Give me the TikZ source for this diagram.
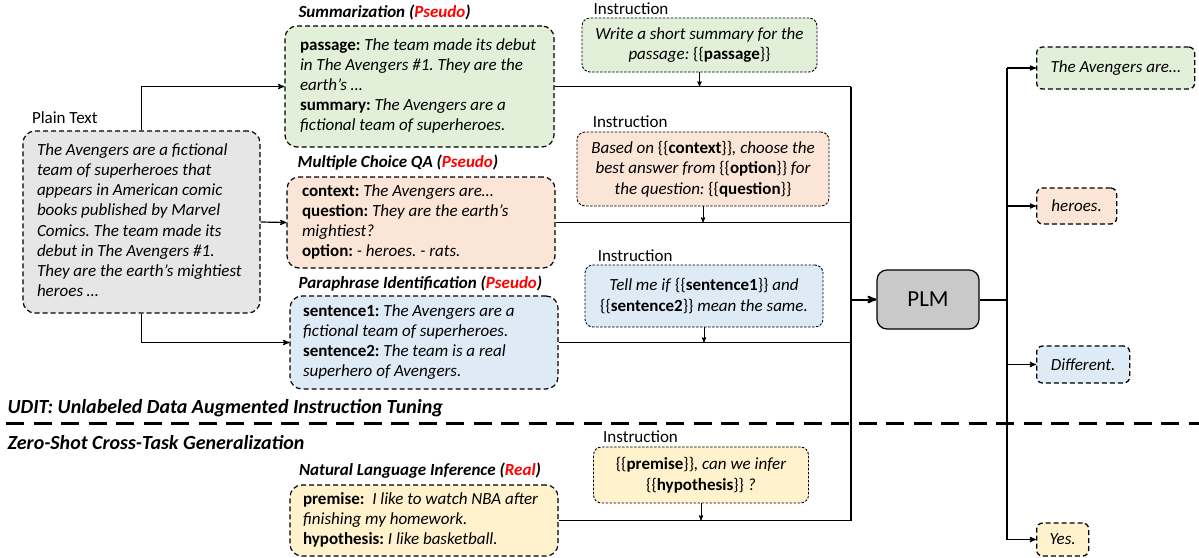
\documentclass[tikz,border=0pt]{standalone}
\usepackage{fontspec}
\setmainfont{Carlito}
\usetikzlibrary{arrows}
\usetikzlibrary{positioning}

\definecolor{sumgreen}{RGB}{226,240,217}
\definecolor{qaorange}{RGB}{251,229,214}
\definecolor{parablue}{RGB}{222,235,247}
\definecolor{nliyellow}{RGB}{255,242,204}
\definecolor{plaingray}{RGB}{231,230,230}
\definecolor{plmgray}{RGB}{201,201,201}
\definecolor{pseudored}{RGB}{255,0,0}

\newcommand{\taskfield}[1]{\textup{\textbf{#1}}}
\newcommand{\taskslot}[1]{\textup{\{\{\textbf{#1}\}\}}}
\newcommand{\taskbody}[2]{\makebox[#1][l]{\begin{tabular}{@{}l@{}}#2\end{tabular}}}
\frenchspacing

\begin{document}
\begin{tikzpicture}
	[x=1pt,y=-1pt,>=stealth',line width=1.2pt,
	every node/.style={font=\fontsize{17}{20.5}\selectfont},
	taskbox/.style={draw,rounded corners=12pt,dash pattern=on 5pt off 3pt,
		inner xsep=14pt,font=\fontsize{17}{20.2}\selectfont\itshape},
	insbox/.style={draw,rounded corners=8pt,line width=0.9pt,dash pattern=on 2.5pt off 1.5pt,
		align=center,font=\fontsize{17}{20.5}\selectfont\itshape},
	outbox/.style={draw,rounded corners=6pt,line width=1.3pt,dash pattern=on 5pt off 3pt,
		anchor=west,font=\fontsize{17}{20.5}\selectfont\itshape},
	tasktitle/.style={inner sep=2pt,font=\fontsize{17}{20.5}\selectfont\bfseries\itshape},
	boxlabel/.style={inner sep=2pt},
	sectlabel/.style={anchor=west,inner sep=2pt,font=\fontsize{20}{24}\selectfont\bfseries\itshape}]
	\useasboundingbox (0,0) rectangle (1199,557);

	% plain text
	\node[taskbox,fill=plaingray,minimum width=237pt,minimum height=182pt] (plain) at (141.5,222)
	{\taskbody{209pt}{The Avengers are a fictional\\ team of superheroes that\\ appears in American comic\\ books published by Marvel\\
	 Comics. The team made its\\ debut in The Avengers \#1.\\ They are the earth’s mightiest\\ heroes …}};
	\node[boxlabel,above right=4pt and 7pt of plain.north west] (plaint) {Plain Text};

	% pseudo tasks
	\node[taskbox,fill=sumgreen,minimum width=269pt,minimum height=121pt] (summ) at (419.5,86.5)
	{\taskbody{239pt}{\taskfield{passage:} The team made its debut\\ in The Avengers \#1. They are the\\ earth’s …\\
	 \taskfield{summary:} The Avengers are a\\ fictional team of superheroes.}};
	\node[tasktitle,above right=3pt and 11.5pt of summ.north west] (summt) {Summarization (\textcolor{pseudored}{Pseudo})};

	\node[taskbox,fill=qaorange,minimum width=268pt,minimum height=91pt] (mcq) at (421,222.5)
	{\taskbody{238pt}{\taskfield{context:} The Avengers are…\\ \taskfield{question:} They are the earth’s\\ mightiest?\\
	 \taskfield{option:} - heroes. - rats.}};
	\node[tasktitle,above right=3.5pt and 8.7pt of mcq.north west] (mcqt) {Multiple Choice QA (\textcolor{pseudored}{Pseudo})};

	\node[taskbox,fill=parablue,minimum width=268pt,minimum height=93pt,inner xsep=13pt] (para) at (424,342.5)
	{\taskbody{242pt}{\taskfield{sentence1:} The Avengers are a\\ fictional team of superheroes.\\
	 \taskfield{sentence2:} The team is a real\\ superhero of Avengers.}};
	\node[tasktitle,above right=1.5pt and 6.5pt of para.north west] (parat) {Paraphrase Identification (\textcolor{pseudored}{Pseudo})};

	% real task
	\node[taskbox,fill=nliyellow,minimum width=268pt,minimum height=71pt,inner xsep=13pt] (nli) at (424,520.5)
	{\taskbody{242pt}{\taskfield{premise:}\ \ I like to watch NBA after\\ finishing my homework.\\ \taskfield{hypothesis:} I like basketball.}};
	\node[tasktitle,above right=3.5pt and 7pt of nli.north west] (nlit) {Natural Language Inference (\textcolor{pseudored}{Real})};

	% instructions
	\node[insbox,fill=sumgreen,minimum width=235pt,minimum height=54pt] (ins1) at (699.5,45)
	{Write a short summary for the\\ passage: \taskslot{passage}};
	\node[boxlabel,above right=0pt and 9.5pt of ins1.north west] (ins1t) {Instruction};

	\node[insbox,fill=qaorange,minimum width=252pt,minimum height=74pt] (ins2) at (703,169)
	{Based on \taskslot{context}, choose the\\ best answer from \taskslot{option} for\\ the question: \taskslot{question}};
	\node[boxlabel,above right=1pt and 13.6pt of ins2.north west] (ins2t) {Instruction};

	\node[insbox,fill=parablue,minimum width=238pt,minimum height=62pt] (ins3) at (704,296)
	{Tell me if \taskslot{sentence1} and\\ \taskslot{sentence2} mean the same.};
	\node[boxlabel,above right=0.5pt and 10.6pt of ins3.north west] (ins3t) {Instruction};

	\node[insbox,fill=nliyellow,minimum width=215pt,minimum height=56pt] (ins4) at (701,475)
	{\taskslot{premise}, can we infer\\ \taskslot{hypothesis} ?};
	\node[boxlabel,above right=1pt and 7.5pt of ins4.north west] (ins4t) {Instruction};

	% model and outputs
	\node[draw,fill=plmgray,rounded corners=10pt,minimum width=102pt,minimum height=59pt,
		font=\fontsize{23}{27}\selectfont] (plm) at (928,299.5) {PLM};

	\node[outbox,fill=sumgreen,minimum width=158pt,minimum height=42pt] (out1) at (1036,68) {The Avengers are…};
	\node[outbox,fill=qaorange,minimum width=80pt,minimum height=36pt] (out2) at (1036,206) {heroes.};
	\node[outbox,fill=parablue,minimum width=93pt,minimum height=37pt] (out3) at (1036,364.5) {Different.};
	\node[outbox,fill=nliyellow,minimum width=52pt,minimum height=33pt] (out4) at (1036,539.5) {Yes.};

	\node[sectlabel] (udit) at (5,408) {UDIT: Unlabeled Data Augmented Instruction Tuning};
	\node[sectlabel] (zeroshot) at (5,443) {Zero-Shot Cross-Task Generalization};

	\coordinate (ibus) at (851,0);
	\coordinate (obus) at (1007,0);
	\coordinate (sepl) at (6,423.5);
	\coordinate (sepr) at (1199,423.5);

	% plain text to pseudo tasks
	\draw[->] (plain.north) |- (summ.west);
	\draw[->] (plain.east) -- (mcq.west);
	\draw[->] (plain.south) |- (para.west);

	% tasks and instructions to the model
	\foreach \task in {summ,mcq,para,nli}
	\draw (\task.east) -- (\task.east -| ibus);
	\foreach \ins/\task in {ins1/summ,ins2/mcq,ins3/para,ins4/nli}
	\draw[->,line width=0.9pt] (\ins) -- (\ins.south |- \task.east);
	\draw[line width=1.4pt] (summ.east -| ibus) -- (nli.east -| ibus);
	\draw[->,line width=2pt] (plm.west -| ibus) -- (plm);

	% model to outputs
	\draw[line width=2pt] (plm.east) -- (plm.east -| obus);
	\draw[line width=1.4pt] (out1.west -| obus) -- (out4.west -| obus);
	\foreach \out in {out1,out2,out3,out4}
	\draw[->] (\out.west -| obus) -- (\out);

	\draw[line width=3pt,dash pattern=on 18pt off 9.5pt] (sepl) -- (sepr);
\end{tikzpicture}
\end{document}
